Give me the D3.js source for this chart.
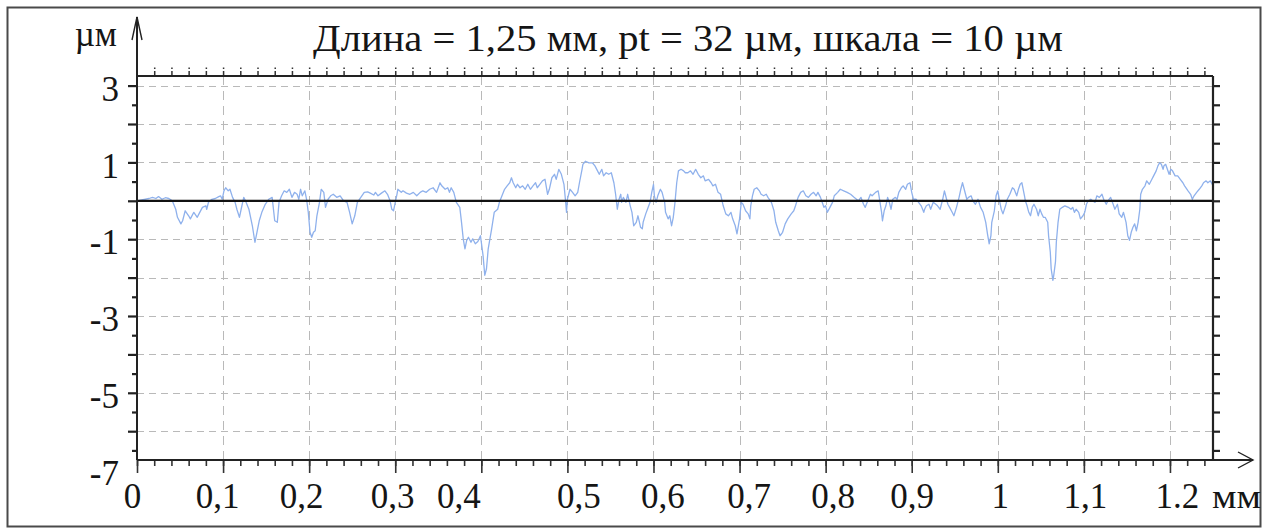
<!DOCTYPE html>
<html>
<head>
<meta charset="utf-8">
<script src="https://cdn.jsdelivr.net/npm/d3@7"></script>
<style>
  html, body { margin: 0; padding: 0; background: #fff; }
  svg { display: block; }
  text { font-family: "Liberation Serif", Tinos, "Times New Roman", serif; fill: #151515; }
</style>
</head>
<body>
<svg id="chart" width="1277" height="529"></svg>
<script>
// Roughness profile: distance along the trace (mm) and height (µm)
const distanceMm = [
  0.000,0.014,0.018,0.022,0.025,0.029,0.033,0.037,0.041,
  0.045,0.047,0.051,0.053,0.056,0.060,0.062,0.066,0.070,0.072,
  0.076,0.080,0.081,0.083,0.087,0.091,0.095,0.097,0.099,0.101,
  0.103,0.106,0.108,0.111,0.114,0.116,0.119,0.121,0.124,0.126,
  0.130,0.134,0.137,0.139,0.142,0.145,0.149,0.153,0.157,0.160,
  0.163,0.165,0.168,0.171,0.174,0.177,0.180,0.183,0.186,0.188,
  0.190,0.192,0.195,0.197,0.199,0.201,0.203,0.205,0.207,0.209,
  0.212,0.214,0.217,0.219,0.222,0.225,0.228,0.232,0.236,0.240,
  0.244,0.247,0.250,0.253,0.256,0.260,0.264,0.268,0.271,0.275,
  0.277,0.280,0.284,0.288,0.291,0.294,0.296,0.298,0.300,0.302,
  0.303,0.307,0.309,0.313,0.317,0.321,0.325,0.329,0.332,0.336,
  0.340,0.344,0.348,0.352,0.354,0.358,0.361,0.363,0.365,0.368,
  0.371,0.375,0.377,0.379,0.381,0.383,0.385,0.388,0.390,0.393,
  0.396,0.399,0.402,0.404,0.406,0.408,0.412,0.415,
  0.419,0.421,0.424,0.427,0.430,0.433,0.435,0.437,0.440,0.442,
  0.445,0.448,0.451,0.454,0.457,0.460,0.463,0.465,0.468,0.471,
  0.474,0.477,0.479,0.482,0.485,0.487,0.490,0.493,0.496,0.498,
  0.499,0.500,0.503,0.506,0.509,0.512,0.514,0.517,0.518,0.521,
  0.525,0.529,0.532,0.535,0.537,0.540,0.542,0.545,0.548,0.551,
  0.554,0.556,0.558,0.560,0.562,0.563,0.565,0.568,0.570,0.573,
  0.575,0.577,0.580,0.582,0.585,0.587,0.588,0.591,0.593,0.596,
  0.598,0.600,0.601,0.603,0.605,0.608,0.610,0.613,0.614,0.617,
  0.619,0.621,0.623,0.625,0.627,0.629,0.632,0.635,0.637,0.640,
  0.643,0.646,0.649,0.652,0.655,0.658,0.660,0.664,0.667,0.669,
  0.672,0.675,0.678,0.681,0.684,0.687,0.690,0.692,0.695,0.697,
  0.700,0.702,0.704,0.707,0.710,0.712,0.713,0.715,0.717,0.720,
  0.723,0.725,0.728,0.731,0.733,0.737,0.740,0.742,0.745,0.747,
  0.750,0.753,0.756,0.760,0.763,0.765,0.768,0.771,0.774,0.777,
  0.780,0.783,0.786,0.789,0.791,0.794,0.796,0.798,0.800,0.802,
  0.805,0.808,0.810,0.814,0.817,0.821,0.825,0.829,0.833,
  0.838,0.841,0.844,0.846,0.849,0.852,0.854,0.858,0.861,0.862,
  0.865,0.866,0.868,0.870,0.872,0.874,0.876,0.878,0.881,0.883,
  0.885,0.888,0.890,0.893,0.895,0.898,0.900,0.902,0.905,0.908,
  0.911,0.914,0.915,0.917,0.920,0.922,0.925,0.928,0.930,0.933,
  0.936,0.938,0.939,0.942,0.944,0.947,0.949,0.952,0.955,0.957,
  0.959,0.961,0.964,0.966,0.969,0.971,0.974,0.977,0.980,0.983,
  0.986,0.988,0.990,0.992,0.993,0.996,0.998,1.000,1.002,1.004,
  1.006,1.009,1.011,1.014,1.017,1.019,1.022,1.024,1.026,1.028,
  1.031,1.032,1.034,1.036,1.038,1.040,1.042,1.045,1.047,1.049,
  1.051,1.053,1.055,1.058,1.059,1.061,1.062,1.064,1.065,1.067,
  1.068,1.070,1.072,1.075,1.078,1.082,1.085,1.087,1.089,1.091,
  1.094,1.096,1.099,1.101,1.103,1.105,1.108,1.110,1.113,1.115,
  1.118,1.121,1.123,1.126,1.128,1.131,1.134,1.136,1.139,1.141,
  1.144,1.146,1.149,1.151,1.153,1.155,1.157,1.159,1.161,1.163,
  1.165,1.166,1.168,1.171,1.173,1.176,1.179,1.181,1.184,1.186,
  1.188,1.190,1.192,1.193,1.195,1.197,1.199,1.201,1.203,1.206,
  1.209,1.212,1.215,1.217,1.221,1.224,1.226,1.228,1.231,1.234,
  1.237,1.239,1.242,1.244,1.247,1.250
];

const heightUm = [
  0.00,0.06,0.09,0.06,0.11,0.04,0.08,0.06,0.00,
  -0.22,-0.43,-0.60,-0.52,-0.26,-0.39,-0.47,-0.30,-0.43,-0.34,
  -0.17,-0.13,-0.22,-0.04,0.04,0.06,0.11,0.13,0.04,0.26,
  0.34,0.26,0.30,0.09,-0.04,-0.22,-0.43,-0.22,0.09,0.00,
  -0.22,-0.65,-1.08,-0.86,-0.52,-0.30,-0.09,0.04,0.09,-0.52,
  -0.56,-0.04,0.13,0.26,0.22,0.30,0.09,0.22,0.17,0.04,
  0.30,0.13,0.26,0.04,-0.30,-0.82,-0.95,-0.82,-0.78,-0.39,
  -0.04,0.30,0.22,-0.17,0.04,0.13,0.17,0.09,0.13,0.00,
  -0.04,-0.30,-0.60,-0.39,-0.04,0.09,0.22,0.23,0.20,0.15,
  0.22,0.13,0.20,0.26,0.17,0.00,-0.22,-0.26,-0.04,0.17,
  0.30,0.22,0.26,0.20,0.17,0.22,0.13,0.22,0.26,0.22,
  0.30,0.34,0.22,0.47,0.39,0.30,0.34,0.22,0.34,0.22,
  -0.04,-0.17,-0.56,-0.99,-1.25,-1.03,-0.95,-1.08,-0.99,-1.12,
  -1.06,-0.91,-1.42,-1.94,-1.77,-1.25,-0.73,-0.30,
  -0.22,-0.04,0.13,0.30,0.39,0.47,0.60,0.47,0.34,0.43,
  0.34,0.39,0.30,0.43,0.30,0.39,0.47,0.34,0.43,0.52,
  0.56,0.17,0.30,0.60,0.69,0.56,0.82,0.69,0.43,-0.04,
  -0.30,0.04,0.30,0.22,0.13,0.22,0.47,0.82,0.95,1.03,
  0.99,0.99,0.91,0.78,0.69,0.82,0.65,0.73,0.69,0.73,
  0.47,0.17,-0.22,0.04,0.17,-0.04,0.09,-0.04,0.17,-0.13,
  -0.30,-0.65,-0.56,-0.39,-0.69,-0.73,-0.56,-0.34,-0.22,-0.04,
  0.22,0.43,0.13,-0.04,0.13,0.30,0.22,-0.04,-0.30,-0.47,
  -0.39,-0.65,-0.43,-0.04,0.47,0.78,0.82,0.78,0.73,0.73,
  0.78,0.69,0.82,0.69,0.60,0.65,0.52,0.56,0.47,0.39,
  0.43,0.22,0.17,-0.13,-0.34,-0.39,-0.30,-0.47,-0.65,-0.86,
  -0.47,-0.04,-0.09,-0.26,-0.34,-0.47,-0.13,0.13,0.30,0.34,
  0.26,0.17,0.13,0.17,0.09,-0.04,-0.26,-0.56,-0.78,-0.91,
  -0.82,-0.60,-0.47,-0.34,-0.26,-0.13,0.09,0.22,0.26,0.13,
  0.09,0.17,0.22,0.13,0.22,0.09,-0.04,-0.17,-0.13,-0.30,
  -0.17,-0.04,0.13,0.22,0.30,0.26,0.22,0.17,0.09,
  0.00,0.09,-0.09,-0.17,0.00,0.17,0.13,0.22,0.26,0.13,
  -0.30,-0.52,-0.26,-0.13,0.09,-0.04,-0.22,0.04,0.09,0.04,
  0.22,0.34,0.39,0.30,0.43,0.47,0.22,0.04,0.04,-0.04,
  -0.13,-0.30,-0.22,-0.13,-0.09,-0.22,-0.04,-0.09,-0.13,-0.22,
  0.04,0.26,0.17,-0.09,-0.17,-0.30,-0.39,-0.17,0.09,0.30,
  0.47,0.30,0.04,0.09,0.13,0.00,-0.09,0.04,-0.17,-0.30,
  -0.56,-0.86,-1.12,-0.91,-0.56,-0.26,0.13,0.26,0.00,-0.22,
  -0.34,-0.13,0.04,0.17,0.34,0.30,0.13,0.30,0.43,0.47,
  0.13,0.00,-0.13,-0.30,-0.39,-0.17,-0.09,-0.22,-0.39,-0.22,
  -0.34,-0.43,-0.43,-0.56,-0.91,-1.34,-1.77,-2.07,-1.94,-1.59,
  -1.08,-0.56,-0.22,-0.17,-0.13,-0.17,-0.22,-0.17,-0.30,-0.22,
  -0.30,-0.47,-0.39,-0.30,-0.09,0.00,0.04,0.00,-0.04,0.13,
  0.09,0.17,0.04,-0.09,0.00,0.09,-0.09,-0.22,-0.09,-0.34,
  -0.43,-0.30,-0.56,-0.91,-1.03,-0.82,-0.69,-0.60,-0.78,-0.56,
  -0.22,0.17,0.30,0.39,0.52,0.43,0.56,0.65,0.78,0.91,
  0.99,0.95,0.82,0.91,0.95,0.82,0.69,0.82,0.78,0.65,
  0.65,0.56,0.47,0.39,0.26,0.17,0.04,0.13,0.22,0.30,
  0.39,0.47,0.52,0.47,0.52,0.39
];

// Axis ticks and labels
const xTickValues = [0, 0.1, 0.2, 0.3, 0.4, 0.5, 0.6, 0.7, 0.8, 0.9, 1.0, 1.1, 1.2];
const xTickLabels = ["0", "0,1", "0,2", "0,3", "0,4", "0,5", "0,6", "0,7", "0,8", "0,9", "1", "1,1", "1.2"];
const yTickValues = [3, 1, -1, -3, -5, -7];
const yTickLabels = ["3", "1", "-1", "-3", "-5", "-7"];
const xGridValues = [0.1, 0.2, 0.3, 0.4, 0.5, 0.6, 0.7, 0.8, 0.9, 1.0, 1.1, 1.2];
const yGridValues = [3, 2, 1, 0, -1, -2, -3, -4, -5, -6];

const titleText = "Длина = 1,25 мм, pt = 32 µм, шкала = 10 µм";
const yUnitText = "µм";
const xUnitText = "мм";

// Layout
const W = 1277, H = 529;
const plot = { left: 137, right: 1213, top: 76, bottom: 460 };
const axisColor = "#222";
const gridColor = "#b9b9b9";
const profileColor = "#8fb1ec";
const labelSize = 35;
// horizontal nudges (px) of the distance labels relative to their ticks
const xLabelNudge = [-5, -6, -8, -3, -23, 11, 9, 9, 7, 0, 2, 1, 7];

const svg = d3.select("#chart");
svg.append("rect").attr("width", W).attr("height", H).attr("fill", "#fff");

// outer frame
svg.append("rect")
  .attr("x", 7.5).attr("y", 7.5).attr("width", 1253).attr("height", 519)
  .attr("fill", "none").attr("stroke", "#4a4a4a").attr("stroke-width", 2);

const x = d3.scaleLinear().domain([0, 1.25]).range([plot.left, plot.right]);
const y = d3.scaleLinear().domain([-6.75, 3.25]).range([plot.bottom, plot.top]);

// dashed grid
const grid = svg.append("g");
grid.selectAll("line.h").data(yGridValues).join("line")
  .attr("x1", plot.left).attr("x2", plot.right)
  .attr("y1", d => Math.round(y(d)) + 0.5).attr("y2", d => Math.round(y(d)) + 0.5)
  .attr("stroke", gridColor).attr("stroke-width", 1).attr("stroke-dasharray", "7,5");
grid.selectAll("line.v").data(xGridValues).join("line")
  .attr("x1", d => Math.round(x(d)) + 0.5).attr("x2", d => Math.round(x(d)) + 0.5)
  .attr("y1", plot.top).attr("y2", plot.bottom)
  .attr("stroke", gridColor).attr("stroke-width", 1).attr("stroke-dasharray", "9,6");

// profile
const profile = distanceMm.map((d, i) => [d, heightUm[i]]).filter(p => p[1] !== undefined);
svg.append("path")
  .datum(profile)
  .attr("fill", "none")
  .attr("stroke", profileColor)
  .attr("stroke-width", 1.3)
  .attr("stroke-linejoin", "round")
  .attr("d", d3.line().x(p => x(p[0])).y(p => y(p[1])));

// mean line at zero
svg.append("line")
  .attr("x1", plot.left).attr("x2", plot.right)
  .attr("y1", y(0)).attr("y2", y(0))
  .attr("stroke", "#111").attr("stroke-width", 2.2);

// helper for tick-only axes
function ticksOnly(g, color, width, dash) {
  g.select(".domain").remove();
  g.selectAll(".tick line").attr("stroke", color).attr("stroke-width", width);
  if (dash) g.selectAll(".tick line").attr("stroke-dasharray", dash);
  g.selectAll(".tick text").remove();
}

// bottom minor and major ticks
svg.append("g").attr("transform", `translate(0,${plot.bottom})`)
  .call(d3.axisBottom(x).tickValues(d3.range(0, 1.2401, 0.02)).tickSize(6).tickFormat(""))
  .call(g => ticksOnly(g, "#333", 1.6));
svg.append("g").attr("transform", `translate(0,${plot.bottom})`)
  .call(d3.axisBottom(x).tickValues(xTickValues).tickSize(13).tickFormat(""))
  .call(g => ticksOnly(g, "#333", 1.6));

// top ticks
svg.append("g").attr("transform", `translate(0,${plot.top})`)
  .call(d3.axisTop(x).tickValues(d3.range(0.02, 1.2401, 0.02)).tickSize(9).tickFormat(""))
  .call(g => ticksOnly(g, "#333", 1.5, "5,2,1.5"));

// left ticks: half and whole micrometres
svg.append("g").attr("transform", `translate(${plot.left},0)`)
  .call(d3.axisLeft(y).tickValues(d3.range(-6.5, 3.01, 1)).tickSize(5).tickFormat(""))
  .call(g => ticksOnly(g, "#222", 2.2));
svg.append("g").attr("transform", `translate(${plot.left},0)`)
  .call(d3.axisLeft(y).tickValues(d3.range(-6, 3.01, 1)).tickSize(9).tickFormat(""))
  .call(g => ticksOnly(g, "#222", 2.2));

// right ticks
svg.append("g").attr("transform", `translate(${plot.right},0)`)
  .call(d3.axisRight(y).tickValues(d3.range(-6.5, 3.01, 0.5)).tickSize(7).tickFormat(""))
  .call(g => ticksOnly(g, "#222", 2.2));

// y tick labels
const yLab = svg.append("g").attr("transform", `translate(${plot.left},0)`)
  .call(d3.axisLeft(y).tickValues(yTickValues).tickSize(0).tickPadding(18)
    .tickFormat((d, i) => yTickLabels[i]));
yLab.select(".domain").remove();
yLab.attr("font-family", null).attr("font-size", null);
yLab.selectAll(".tick text")
  .attr("dy", "0.42em")
  .style("font-size", labelSize + "px")
  .attr("fill", "#151515");

// x tick labels
const xLab = svg.append("g").attr("transform", `translate(0,${plot.bottom})`)
  .call(d3.axisBottom(x).tickValues(xTickValues).tickSize(0)
    .tickFormat((d, i) => xTickLabels[i]));
xLab.select(".domain").remove();
xLab.attr("font-family", null).attr("font-size", null);
xLab.selectAll(".tick text")
  .attr("x", (d, i) => xLabelNudge[i])
  .attr("y", 48).attr("dy", 0)
  .style("font-size", labelSize + "px")
  .attr("fill", "#151515");

// axis lines
const axes = svg.append("g").attr("stroke", axisColor).attr("fill", "none");
axes.append("line").attr("x1", plot.left).attr("x2", plot.right).attr("y1", plot.top).attr("y2", plot.top).attr("stroke-width", 2.2);
axes.append("line").attr("x1", plot.right).attr("x2", plot.right).attr("y1", plot.top).attr("y2", plot.bottom).attr("stroke-width", 2.2);
axes.append("line").attr("x1", plot.left).attr("x2", 1253).attr("y1", plot.bottom).attr("y2", plot.bottom).attr("stroke-width", 2);
axes.append("line").attr("x1", plot.left).attr("x2", plot.left).attr("y1", 17).attr("y2", plot.bottom).attr("stroke-width", 2);
// arrow heads
axes.append("path").attr("d", "M132,40 L137,17 L142,40").attr("stroke-width", 1.4);
axes.append("path").attr("d", "M1238,452 L1253,460 L1238,468").attr("stroke-width", 1.4);

// units and title
svg.append("text").attr("x", 117).attr("y", 46).attr("text-anchor", "end")
  .style("font-size", "35px").text(yUnitText);
svg.append("text").attr("x", 1212).attr("y", 508)
  .attr("textLength", 49).attr("lengthAdjust", "spacingAndGlyphs")
  .style("font-size", "34px").text(xUnitText);
svg.append("text").attr("x", 313).attr("y", 51)
  .attr("textLength", 750).attr("lengthAdjust", "spacingAndGlyphs")
  .style("font-size", "37px").text(titleText);
</script>
</body>
</html>
